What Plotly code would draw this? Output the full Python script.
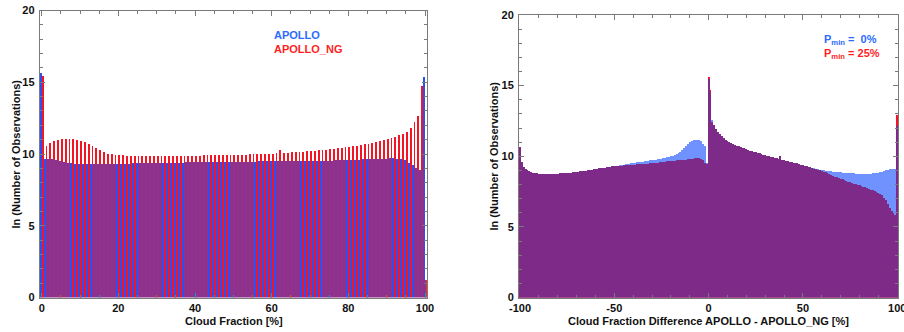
import plotly.graph_objects as go

# ---------------- data ----------------
cf_bins = list(range(0, 101))
apollo_cf = [15.65,
    9.65, 9.65, 9.62, 9.58, 9.52, 9.45, 9.38, 9.35, 9.33, 9.32,
    9.31, 9.30, 9.30, 9.30, 9.30, 9.30, 9.30, 9.31, 9.31, 9.32,
    9.32, 9.33, 9.33, 9.34, 9.34, 9.35, 9.35, 9.36, 9.36, 9.37,
    9.37, 9.38, 9.38, 9.39, 9.39, 9.40, 9.40, 9.41, 9.41, 9.42,
    9.42, 9.43, 9.43, 9.43, 9.44, 9.44, 9.44, 9.45, 9.45, 9.45,
    9.46, 9.46, 9.46, 9.47, 9.47, 9.47, 9.48, 9.48, 9.48, 9.49,
    9.49, 9.49, 9.48, 9.49, 9.49, 9.50, 9.50, 9.50, 9.50, 9.51,
    9.51, 9.52, 9.52, 9.53, 9.53, 9.54, 9.55, 9.56, 9.57, 9.58,
    9.59, 9.60, 9.61, 9.62, 9.63, 9.64, 9.65, 9.66, 9.67, 9.68,
    9.69, 9.69, 9.68, 9.64, 9.55, 9.40, 9.22, 9.05, 8.90, 15.35]
apollo_ng_cf = [15.45,
    10.58, 10.80, 10.90, 10.97, 11.02, 11.05, 11.05, 11.03, 11.00, 10.93,
    10.83, 10.70, 10.55, 10.40, 10.25, 10.12, 10.03, 9.97, 9.93, 9.91,
    9.90, 9.89, 9.88, 9.87, 9.87, 9.86, 9.86, 9.86, 9.86, 9.86,
    9.86, 9.86, 9.86, 9.86, 9.87, 9.87, 9.87, 9.88, 9.88, 9.89,
    9.89, 9.90, 9.90, 9.91, 9.91, 9.92, 9.92, 9.93, 9.93, 9.94,
    9.95, 9.95, 9.96, 9.97, 9.98, 9.99, 10.00, 10.01, 10.02, 10.03,
    10.05, 10.30, 10.08, 10.10, 10.12, 10.13, 10.15, 10.17, 10.19, 10.21,
    10.23, 10.25, 10.28, 10.30, 10.33, 10.36, 10.39, 10.42, 10.46, 10.50,
    10.54, 10.58, 10.63, 10.68, 10.73, 10.78, 10.84, 10.90, 10.97, 11.04,
    11.12, 11.20, 11.30, 11.42, 11.56, 11.80, 12.20, 12.65, 14.75, 1.20]

diff_bins = list(range(-100, 101))
pmin0_diff = [
    10.66, 9.60, 9.25, 9.10, 9.00, 8.93, 8.88, 8.84, 8.81, 8.78,
    8.76, 8.74, 8.72, 8.73, 8.76, 8.74, 8.74, 8.75, 8.75, 8.76,
    8.77, 8.78, 8.79, 8.80, 8.81, 8.82, 8.83, 8.84, 8.86, 8.87,
    8.89, 8.91, 8.93, 8.95, 8.97, 8.99, 9.01, 9.03, 9.05, 9.07,
    9.10, 9.12, 9.14, 9.16, 9.18, 9.20, 9.22, 9.24, 9.26, 9.28,
    9.30, 9.32, 9.34, 9.36, 9.38, 9.41, 9.43, 9.45, 9.47, 9.50,
    9.52, 9.54, 9.56, 9.58, 9.60, 9.62, 9.64, 9.66, 9.68, 9.70,
    9.72, 9.74, 9.76, 9.78, 9.80, 9.82, 9.85, 9.88, 9.92, 9.96,
    10.00, 10.05, 10.10, 10.16, 10.22, 10.32, 10.43, 10.55, 10.70, 10.85,
    10.98, 11.08, 11.14, 11.17, 11.17, 11.13, 11.05, 10.90, 10.70, 9.50,
    15.45, 14.55, 12.55, 12.20, 11.95, 11.75, 11.55, 11.40, 11.28, 11.18,
    11.10, 11.02, 10.95, 10.88, 10.82, 10.76, 10.70, 10.65, 10.60, 10.55,
    10.50, 10.45, 10.40, 10.36, 10.32, 10.28, 10.24, 10.20, 10.16, 10.12,
    10.08, 10.04, 10.00, 9.96, 9.92, 9.88, 9.85, 9.82, 9.99, 9.76,
    9.72, 9.69, 9.66, 9.62, 9.59, 9.55, 9.52, 9.49, 9.45, 9.41,
    9.37, 9.33, 9.29, 9.25, 9.21, 9.18, 9.15, 9.12, 9.09, 9.06,
    9.03, 9.01, 8.99, 8.97, 8.95, 8.93, 8.91, 8.89, 8.88, 8.86,
    8.85, 8.84, 8.83, 8.82, 8.81, 8.80, 8.79, 8.78, 8.77, 8.77,
    8.76, 8.76, 8.76, 8.76, 8.76, 8.76, 8.77, 8.78, 8.79, 8.81,
    8.84, 8.87, 8.91, 8.95, 9.00, 9.04, 9.07, 9.09, 9.10, 9.08,
    12.16]
pmin25_diff = [
    10.66, 9.60, 9.25, 9.10, 9.00, 8.93, 8.88, 8.84, 8.81, 8.78,
    8.76, 8.74, 8.72, 8.73, 8.76, 8.74, 8.74, 8.75, 8.75, 8.76,
    8.77, 8.78, 8.79, 8.80, 8.81, 8.82, 8.83, 8.84, 8.86, 8.87,
    8.89, 8.91, 8.93, 8.95, 8.97, 8.99, 9.01, 9.03, 9.05, 9.07,
    9.10, 9.12, 9.14, 9.16, 9.18, 9.20, 9.22, 9.24, 9.26, 9.28,
    9.30, 9.31, 9.32, 9.33, 9.34, 9.35, 9.36, 9.37, 9.38, 9.39,
    9.40, 9.41, 9.42, 9.43, 9.44, 9.45, 9.46, 9.47, 9.48, 9.50,
    9.51, 9.52, 9.54, 9.55, 9.57, 9.58, 9.60, 9.62, 9.63, 9.65,
    9.66, 9.68, 9.69, 9.70, 9.71, 9.72, 9.73, 9.74, 9.76, 9.78,
    9.80, 9.82, 9.84, 9.86, 9.87, 9.85, 9.80, 9.72, 9.55, 9.45,
    15.60, 14.70, 12.40, 12.20, 11.95, 11.75, 11.55, 11.40, 11.28, 11.18,
    11.10, 11.02, 10.95, 10.88, 10.82, 10.76, 10.70, 10.65, 10.60, 10.55,
    10.50, 10.45, 10.40, 10.36, 10.32, 10.28, 10.24, 10.20, 10.16, 10.12,
    10.08, 10.04, 10.00, 9.96, 9.92, 9.88, 9.85, 9.82, 9.99, 9.76,
    9.72, 9.69, 9.66, 9.62, 9.59, 9.55, 9.52, 9.49, 9.45, 9.41,
    9.37, 9.33, 9.29, 9.25, 9.21, 9.17, 9.13, 9.09, 9.05, 9.01,
    8.96, 8.91, 8.86, 8.80, 8.74, 8.68, 8.62, 8.56, 8.51, 8.46,
    8.41, 8.36, 8.31, 8.26, 8.21, 8.16, 8.11, 8.06, 8.01, 7.97,
    7.93, 7.88, 7.84, 7.79, 7.74, 7.69, 7.64, 7.59, 7.54, 7.48,
    7.42, 7.35, 7.23, 7.07, 6.88, 6.62, 6.32, 6.10, 5.95, 5.83,
    12.95]

left_xticks = [0, 20, 40, 60, 80, 100]
right_xticks = [-100, -50, 0, 50, 100]
yticks = [0, 5, 10, 15, 20]

# ---------------- style ----------------
W, H = 904, 332
FONT = "Liberation Sans, Arial, Helvetica, sans-serif"
BLUE = "#2a4ff5"
RED = "#f41424"
LIGHT_BLUE = "#6f92ff"
PURPLE = "#7e2a88"
BLUE_TXT = "#2b6bff"
RED_TXT = "#ff1f1f"
AXC = "#7a7a7a"

# where both Pmin distributions overlap (drawn purple, as in the blended original)
overlap_diff = [min(a, b) for a, b in zip(pmin0_diff, pmin25_diff)]

def dom_x(a, b):
    return [a / W, b / W]

def dom_y(top, bottom):
    return [1 - bottom / H, 1 - top / H]

fig = go.Figure()
# left panel: side-by-side half-width bars in each 1 % bin
fig.add_trace(go.Bar(x=cf_bins, y=apollo_cf, width=0.5, offset=-0.5,
                     marker=dict(color=BLUE, line=dict(width=0)), xaxis="x", yaxis="y"))
fig.add_trace(go.Bar(x=cf_bins, y=apollo_ng_cf, width=0.5, offset=0.0,
                     marker=dict(color=RED, line=dict(width=0)), xaxis="x", yaxis="y"))
# right panel: overlaid full-width bars
fig.add_trace(go.Bar(x=diff_bins, y=pmin0_diff, width=1.0,
                     marker=dict(color=LIGHT_BLUE, line=dict(width=0)), xaxis="x2", yaxis="y2"))
fig.add_trace(go.Bar(x=diff_bins, y=pmin25_diff, width=1.0,
                     marker=dict(color=RED, line=dict(width=0)), xaxis="x2", yaxis="y2"))
fig.add_trace(go.Bar(x=diff_bins, y=overlap_diff, width=1.0,
                     marker=dict(color=PURPLE, line=dict(width=0)), xaxis="x2", yaxis="y2"))

tickfont = dict(family=FONT, size=11, color="#111111", weight="bold")

def xax(domain, rng, tv, minor_dt, anchor):
    return dict(domain=domain, range=rng, tickvals=tv, ticktext=[str(v) for v in tv],
                ticks="inside", ticklen=5, tickcolor=AXC, tickwidth=1,
                minor=dict(dtick=minor_dt, tick0=0, ticks="inside", ticklen=3, tickcolor=AXC),
                showline=True, linecolor=AXC, linewidth=1, mirror="allticks",
                showgrid=False, zeroline=False, tickfont=tickfont, anchor=anchor,
                automargin=False, ticklabelstandoff=0, ticklabeloverflow="allow",
                fixedrange=True)

def yax(domain, anchor):
    return dict(domain=domain, range=[0, 20], tickvals=yticks, ticktext=[str(v) for v in yticks],
                ticks="inside", ticklen=5, tickcolor=AXC, tickwidth=1,
                minor=dict(dtick=1, tick0=0, ticks="inside", ticklen=3, tickcolor=AXC),
                showline=True, linecolor=AXC, linewidth=1, mirror="allticks",
                showgrid=False, zeroline=False, tickfont=tickfont, anchor=anchor,
                automargin=False, ticklabelstandoff=2, fixedrange=True)

ann_font = dict(family=FONT, size=11, weight="bold")

def note(text, x, y, color, anchor="left", angle=0):
    return dict(text=text, x=x / W, y=1 - y / H, xref="paper", yref="paper",
                xanchor=anchor, yanchor="middle", align=anchor if anchor != "center" else "center",
                textangle=angle, showarrow=False, font=dict(ann_font, color=color))

annotations = [
    note("Cloud Fraction [%]", 233.5, 321, "#111111", "center"),
    note("Cloud Fraction Difference APOLLO - APOLLO_NG [%]", 708.5, 321, "#111111", "center"),
    note("ln (Number of Observations)", 15.5, 154, "#111111", "center", -90),
    note("ln (Number of Observations)", 493, 156.5, "#111111", "center", -90),
    note("APOLLO", 272, 35, BLUE_TXT),
    note("APOLLO_NG", 272, 49.5, RED_TXT),
    note("P<sub>min</sub> =\u00a0\u00a00%", 822, 40, BLUE_TXT),
    note("P<sub>min</sub> = 25%", 822, 54, RED_TXT),
]

# pixel geometry: left 0 -> x=41.7, 100 -> x=425 ; right -100 -> 520, 100 -> 897.3
lpx = (425 - 41.7) / 100.0
rpx = (897.3 - 520) / 200.0
fig.update_layout(
    width=W, height=H, autosize=False,
    margin=dict(l=0, r=0, t=0, b=0, pad=0),
    paper_bgcolor="white", plot_bgcolor="white",
    barmode="overlay", bargap=0, bargroupgap=0,
    showlegend=False,
    font=dict(family=FONT, size=11, color="#111111"),
    xaxis=xax(dom_x(41.7 - 0.5 * lpx, 425 + 0.5 * lpx), [-0.5, 100.5], left_xticks, 5, "y"),
    yaxis=yax(dom_y(10.5, 297.5), "x"),
    xaxis2=xax(dom_x(520 - 0.5 * rpx, 897.3 + 0.5 * rpx), [-100.5, 100.5], right_xticks, 10, "y2"),
    yaxis2=yax(dom_y(15, 297.5), "x2"),
    annotations=annotations,
)

post_js = "document.body.style.margin='0';document.body.style.padding='0';"

fig.write_html("out.html", config={"staticPlot": True, "displayModeBar": False}, post_script=post_js)
